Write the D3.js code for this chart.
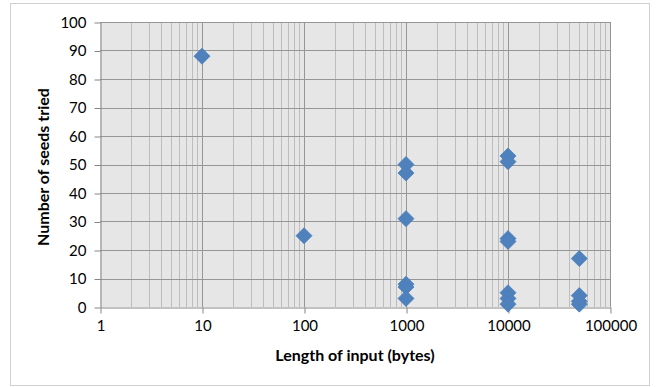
<!DOCTYPE html>
<html>
<head>
<meta charset="utf-8">
<script src="https://cdn.jsdelivr.net/npm/d3@7"></script>
<style>
  body { margin: 0; background: #fff; }
  text { font-family: Lato, "Open Sans", sans-serif; }
</style>
</head>
<body>
<script>
'use strict';

// input lengths (bytes) and seeds tried, one entry per point
const lengths = [10, 100, 1000, 1000, 1000, 1000, 1000, 1000,
  10000, 10000, 10000, 10000, 10000, 10000, 10000,
  50000, 50000, 50000, 50000];
const seeds = [88, 25, 50, 47, 31, 8, 7, 3,
  53, 51, 24, 23, 5, 3, 1,
  17, 4, 2, 1];
const xTicks = [1, 10, 100, 1000, 10000, 100000];
const yTicks = [0, 10, 20, 30, 40, 50, 60, 70, 80, 90, 100];

(function() {
  const svg = d3.select('body').append('svg')
    .attr('width', 660)
    .attr('height', 387);

  // outer chart border
  svg.append('rect')
    .attr('x', 10.5).attr('y', 3.5)
    .attr('width', 639).attr('height', 382)
    .attr('fill', '#fff')
    .attr('stroke', '#d0d0d0');

  const left = 100, right = 610, top = 22, bottom = 307;

  const xScale = d3.scaleLog().domain([1, 100000]).range([left, right]);
  const yScale = d3.scaleLinear().domain([0, 100]).range([bottom, top]);

  svg.append('rect')
    .attr('x', left).attr('y', top)
    .attr('width', right - left).attr('height', bottom - top)
    .attr('fill', '#e6e6e6');

  // minor vertical gridlines
  let minors = [];
  for (let d = 1; d < 100000; d *= 10) {
    for (let k = 2; k <= 9; k++) minors.push(d * k);
  }
  svg.append('g').selectAll('line')
    .data(minors)
    .enter().append('line')
      .attr('x1', (d) => Math.round(xScale(d)) + 0.5)
      .attr('x2', (d) => Math.round(xScale(d)) + 0.5)
      .attr('y1', top).attr('y2', bottom)
      .attr('stroke', '#bdbdbd');

  // major vertical gridlines
  svg.append('g').selectAll('line')
    .data(xTicks.slice(1))
    .enter().append('line')
      .attr('x1', (d) => Math.round(xScale(d)) + 0.5)
      .attr('x2', (d) => Math.round(xScale(d)) + 0.5)
      .attr('y1', top).attr('y2', bottom)
      .attr('stroke', '#969696');

  // horizontal gridlines
  svg.append('g').selectAll('line')
    .data(yTicks.slice(1))
    .enter().append('line')
      .attr('x1', left).attr('x2', right)
      .attr('y1', (d) => Math.round(yScale(d)) + 0.5)
      .attr('y2', (d) => Math.round(yScale(d)) + 0.5)
      .attr('stroke', '#969696');

  // axes
  let yAxis = d3.axisLeft(yScale).tickValues(yTicks).tickSize(6).tickSizeOuter(0);
  let gy = svg.append('g')
    .attr('transform', 'translate(' + (left + 0.5) + ',0.5)')
    .call(yAxis);
  let xAxis = d3.axisBottom(xScale).tickValues(xTicks).tickSize(6).tickSizeOuter(0)
    .tickFormat(d3.format('d'));
  let gx = svg.append('g')
    .attr('transform', 'translate(0.5,' + (bottom + 0.5) + ')')
    .call(xAxis);

  [gx, gy].forEach((g) => {
    g.select('.domain').attr('stroke', '#868686');
    g.selectAll('.tick line').attr('stroke', '#868686');
    g.selectAll('.tick text')
      .attr('fill', '#000')
      .style('font-size', '15px')
      .style('font-family', 'Lato, "Open Sans", sans-serif');
  });
  gy.selectAll('.tick text').attr('x', -14);
  gx.selectAll('.tick text').attr('y', 13);

  // points
  svg.append('g').selectAll('path')
    .data(lengths.map((l, i) => ({ x: l, y: seeds[i] })))
    .enter().append('path')
      .attr('transform', (d) => 'translate(' + xScale(d.x) + ',' + yScale(d.y) + ')')
      .attr('d', 'M0,-8L8,0L0,8L-8,0Z')
      .attr('fill', '#4f81bd')
      .attr('stroke', '#4a7ebb')
      .attr('stroke-width', 0.8);

  // labels
  svg.append('text')
    .attr('x', 355)
    .attr('y', 361)
    .attr('text-anchor', 'middle')
    .style('font-size', '16px')
    .style('font-weight', 'bold')
    .text('Length of input (bytes)');

  svg.append('text')
    .attr('transform', 'translate(49, 167)rotate(-90)')
    .attr('text-anchor', 'middle')
    .style('font-size', '16px')
    .style('font-weight', 'bold')
    .text('Number of seeds tried');
})();
</script>
</body>
</html>
